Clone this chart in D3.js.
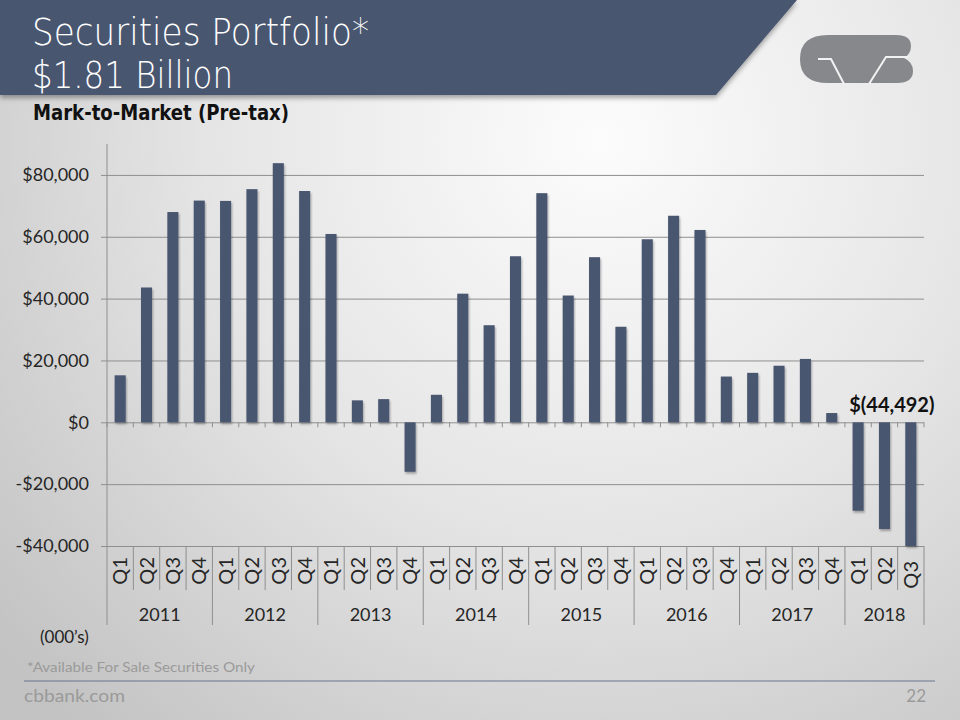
<!DOCTYPE html>
<html>
<head>
<meta charset="utf-8">
<script src="https://cdn.jsdelivr.net/npm/d3@7"></script>
<style>
  html, body { margin: 0; padding: 0; background: #fff; }
  svg { display: block; }
</style>
</head>
<body>
<div id="chart"></div>
<script>
// ---------------- data ----------------
const years = ["2011", "2012", "2013", "2014", "2015", "2016", "2017", "2018"];
const categories = [
  "2011 Q1","2011 Q2","2011 Q3","2011 Q4",
  "2012 Q1","2012 Q2","2012 Q3","2012 Q4",
  "2013 Q1","2013 Q2","2013 Q3","2013 Q4",
  "2014 Q1","2014 Q2","2014 Q3","2014 Q4",
  "2015 Q1","2015 Q2","2015 Q3","2015 Q4",
  "2016 Q1","2016 Q2","2016 Q3","2016 Q4",
  "2017 Q1","2017 Q2","2017 Q3","2017 Q4",
  "2018 Q1","2018 Q2","2018 Q3"
];
const values = [
  15200, 43600, 68000, 71700,
  71600, 75400, 83800, 74800,
  60900, 7100, 7500, -16000,
  8900, 41600, 31400, 53700,
  74100, 41000, 53400, 30900,
  59200, 66800, 62200, 14800,
  16000, 18300, 20500, 3000,
  -28600, -34500, -44492
];
const yTicks = [-40000, -20000, 0, 20000, 40000, 60000, 80000];
const yDomain = [-40000, 90000];
const calloutLabel = "$(44,492)";
const titleLines = ["Securities Portfolio*", "$1.81 Billion"];
const subtitle = "Mark-to-Market (Pre-tax)";
const unitsNote = "(000\u2019s)";
const footnote = "*Available For Sale Securities Only";
const footerSite = "cbbank.com";
const pageNumber = "22";

// ---------------- setup ----------------
const W = 960, H = 720;
const navy = "#4a5670";
const svg = d3.select("#chart").append("svg").attr("width", W).attr("height", H);
const defs = svg.append("defs");

const bg = defs.append("radialGradient").attr("id", "bg")
  .attr("gradientUnits", "userSpaceOnUse")
  .attr("cx", 600).attr("cy", 140).attr("r", 780);
bg.append("stop").attr("offset", 0).attr("stop-color", "#fcfcfc");
bg.append("stop").attr("offset", 0.5).attr("stop-color", "#e5e5e5");
bg.append("stop").attr("offset", 1).attr("stop-color", "#c3c3c3");

const sh = defs.append("filter").attr("id", "shadow").attr("x", "-20%").attr("y", "-20%").attr("width", "140%").attr("height", "160%");
sh.append("feDropShadow").attr("dx", 1).attr("dy", 2).attr("stdDeviation", 1.2)
  .attr("flood-color", "#000").attr("flood-opacity", 0.3);
const sh2 = defs.append("filter").attr("id", "bshadow").attr("x", "-5%").attr("y", "-20%").attr("width", "110%").attr("height", "150%");
sh2.append("feDropShadow").attr("dx", 0).attr("dy", 3).attr("stdDeviation", 2.5)
  .attr("flood-color", "#000").attr("flood-opacity", 0.35);

svg.append("rect").attr("width", W).attr("height", H).attr("fill", "url(#bg)");

// ---------------- header ----------------
svg.append("path")
  .attr("d", "M0,0 L797,0 L716,95 L0,95 Z")
  .attr("fill", navy).attr("filter", "url(#bshadow)");

const titleFont = "'DejaVu Sans', sans-serif";
svg.append("text").attr("x", 32).attr("y", 45)
  .attr("font-family", titleFont).attr("font-size", 37).attr("font-weight", 200).attr("fill", "#fff")
  .attr("textLength", 337).attr("lengthAdjust", "spacingAndGlyphs")
  .text(titleLines[0]);
svg.append("text").attr("x", 32).attr("y", 88)
  .attr("font-family", titleFont).attr("font-size", 37).attr("font-weight", 200).attr("fill", "#fff")
  .attr("textLength", 201).attr("lengthAdjust", "spacingAndGlyphs")
  .text(titleLines[1]);
svg.append("text").attr("x", 33).attr("y", 120)
  .attr("font-family", "'DejaVu Sans Condensed', 'DejaVu Sans', sans-serif").attr("font-size", 21).attr("font-weight", "bold").attr("fill", "#111")
  .attr("textLength", 256).attr("lengthAdjust", "spacingAndGlyphs")
  .text(subtitle);

// logo
const logo = svg.append("g");
logo.append("path")
  .attr("d", "M828,35 L896,35 Q911,35 911,46 Q911,54 904,58 Q913,62 913,71 Q913,83 897,83 L828,83 Q800,83 800,59 Q800,35 828,35 Z")
  .attr("fill", "#86888b");
logo.append("polyline").attr("points", "818,59 831,59 844,84")
  .attr("fill", "none").attr("stroke", "#f2f2f2").attr("stroke-width", 2);
logo.append("polyline").attr("points", "869,84 886,57 908,57")
  .attr("fill", "none").attr("stroke", "#f2f2f2").attr("stroke-width", 2);

// ---------------- chart ----------------
const plotL = 107, plotR = 924, plotT = 144, plotB = 546;
const x = d3.scaleBand().domain(categories).range([plotL, plotR])
  .paddingInner(0.58).paddingOuter(0.29);
const y = d3.scaleLinear().domain(yDomain).range([plotB, plotT]).clamp(true);
const step = x.step();
const catLeft = c => x(c) - x.paddingInner() * step / 2;

const fontMain = "Lato, 'DejaVu Sans', sans-serif";
const gridColor = "#8f8f8f";

// y axis with gridlines
const fmt = v => (v < 0 ? "-$" : "$") + d3.format(",")(Math.abs(v));
const yAxis = d3.axisLeft(y).tickValues(yTicks).tickFormat(fmt).tickSize(6).tickPadding(12);
const gy = svg.append("g").attr("transform", `translate(${plotL},0)`).call(yAxis);
gy.select(".domain").remove();
gy.selectAll(".tick line").attr("x1", -6).attr("x2", plotR - plotL)
  .attr("stroke", gridColor).attr("stroke-width", 1);
gy.selectAll(".tick text").attr("font-family", fontMain).attr("font-size", 18)
  .attr("fill", "#262626");

// vertical axis line
svg.append("line").attr("x1", plotL).attr("x2", plotL).attr("y1", plotT).attr("y2", plotB)
  .attr("stroke", gridColor);

// bars
svg.append("g").selectAll("rect").data(categories).join("rect")
  .attr("x", c => x(c))
  .attr("width", x.bandwidth())
  .attr("y", (c, i) => Math.min(y(values[i]), y(0)))
  .attr("height", (c, i) => Math.abs(y(values[i]) - y(0)))
  .attr("fill", navy)
  .attr("filter", "url(#shadow)");

// category ticks on zero line
const boundaries = categories.map(catLeft).concat([plotR]);
svg.append("g").selectAll("line").data(boundaries).join("line")
  .attr("x1", d => d).attr("x2", d => d)
  .attr("y1", y(0)).attr("y2", y(0) + 5)
  .attr("stroke", gridColor);

// category separators below plot
svg.append("g").selectAll("line").data(boundaries).join("line")
  .attr("x1", d => d).attr("x2", d => d)
  .attr("y1", plotB)
  .attr("y2", (d, i) => (i % 4 === 0 || i === categories.length) ? 625 : 590)
  .attr("stroke", gridColor);

// quarter labels (rotated)
svg.append("g").selectAll("text").data(categories).join("text")
  .attr("transform", (c, i) => `translate(${x(c) + x.bandwidth() / 2},${i === categories.length - 1 ? 561 : 557}) rotate(-90)`)
  .attr("text-anchor", "end")
  .attr("dy", "0.36em")
  .attr("font-family", fontMain).attr("font-size", 20).attr("fill", "#262626")
  .text(c => c.split(" ")[1]);

// year labels
svg.append("g").selectAll("text").data(years).join("text")
  .attr("x", yr => {
    const cs = categories.filter(c => c.startsWith(yr));
    const l = catLeft(cs[0]);
    const r = catLeft(cs[cs.length - 1]) + step;
    return (l + r) / 2;
  })
  .attr("y", 621)
  .attr("text-anchor", "middle")
  .attr("font-family", fontMain).attr("font-size", 18).attr("fill", "#262626")
  .text(yr => yr);

// callout label for last bar
const lastCat = categories[categories.length - 1];
svg.append("text")
  .attr("x", x(lastCat) + x.bandwidth() / 2 - 19)
  .attr("y", y(0) - 10)
  .attr("text-anchor", "middle")
  .attr("font-family", fontMain).attr("font-size", 20).attr("font-weight", "bold").attr("fill", "#111")
  .text(calloutLabel);

// units
svg.append("text").attr("x", 40).attr("y", 643)
  .attr("font-family", fontMain).attr("font-size", 17).attr("fill", "#222")
  .text(unitsNote);

// footnote
svg.append("text").attr("x", 27).attr("y", 672)
  .attr("font-family", fontMain).attr("font-size", 14).attr("fill", "#9a9a9a")
  .attr("textLength", 228).attr("lengthAdjust", "spacingAndGlyphs")
  .text(footnote);

// footer line
svg.append("line").attr("x1", 24).attr("x2", 935).attr("y1", 681).attr("y2", 681)
  .attr("stroke", "#6a7590").attr("stroke-width", 1.2);

svg.append("text").attr("x", 24).attr("y", 702)
  .attr("font-family", fontMain).attr("font-size", 17).attr("fill", "#9a9a9a")
  .attr("textLength", 101).attr("lengthAdjust", "spacingAndGlyphs")
  .text(footerSite);
svg.append("text").attr("x", 926).attr("y", 702).attr("text-anchor", "end")
  .attr("font-family", fontMain).attr("font-size", 17).attr("fill", "#9a9a9a")
  .text(pageNumber);
</script>
</body>
</html>
